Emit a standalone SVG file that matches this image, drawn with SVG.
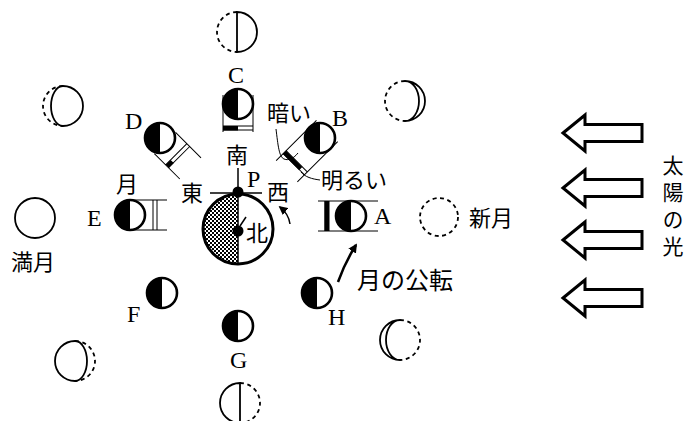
<svg xmlns="http://www.w3.org/2000/svg" width="689" height="421" viewBox="0 0 689 421">
  <style>
    .serif { font-family: "Liberation Serif", "Times New Roman", serif; font-size: 24px; fill: #000; }
    .jp { font-family: "Noto Sans CJK JP", "Noto Sans", sans-serif; font-size: 22px; fill: #000; }
    .jpv { font-family: "Noto Sans CJK JP", "Noto Sans", sans-serif; font-size: 21px; fill: #000; writing-mode: vertical-rl; letter-spacing: 6px; }
    .thin { fill: none; stroke: #000; stroke-width: 1; }
    .line { fill: none; stroke: #000; stroke-width: 1.5; }
    .dash { fill: none; stroke: #000; stroke-width: 1.8; stroke-dasharray: 4 3.5; }
    .solid { fill: none; stroke: #000; stroke-width: 1.8; }
    .sun { fill: #fff; stroke: #000; stroke-width: 3; stroke-linejoin: miter; }
    .bar { fill: #000; }
  </style>
  <defs>
    <!-- stipple for the night side of the earth -->
    <pattern id="stipple" width="4" height="4" patternUnits="userSpaceOnUse">
      <rect width="4" height="4" fill="#fff"/>
      <rect x="0" y="0" width="2" height="2" fill="#000"/>
      <rect x="2" y="2" width="2" height="2" fill="#000"/>
    </pattern>
    <!-- moon seen from the sun side: left half dark -->
    <g id="moon">
      <circle r="15" fill="#fff" stroke="#000" stroke-width="2.6"/>
      <path d="M0,-15 A15,15 0 0 0 0,15 Z" fill="#000"/>
    </g>
    <marker id="head" viewBox="0 0 10 10" refX="8" refY="5" markerWidth="9" markerHeight="9" markerUnits="userSpaceOnUse" orient="auto">
      <path d="M0,0 L10,5 L0,10 Z" fill="#000"/>
    </marker>
  </defs>

  <rect width="689" height="421" fill="#fff"/>

  <!-- sunlight arrows -->
  <g id="sunlight">
    <polygon class="sun" points="563,133 585,115 585,124.5 642,124.5 642,141.5 585,141.5 585,151"/>
    <polygon class="sun" points="563,188 585,170 585,179.5 642,179.5 642,196.5 585,196.5 585,206"/>
    <polygon class="sun" points="563,240 585,222 585,231.5 642,231.5 642,248.5 585,248.5 585,258"/>
    <polygon class="sun" points="563,298 585,280 585,289.5 642,289.5 642,306.5 585,306.5 585,316"/>
    <text class="jpv" x="673" y="155">太陽の光</text>
  </g>

  <!-- earth -->
  <g id="earth">
    <path d="M238,194 A35,35 0 0 0 238,264 Z" fill="url(#stipple)"/>
    <circle cx="238" cy="229" r="35" fill="none" stroke="#000" stroke-width="3"/>
    <line class="line" x1="238" y1="168" x2="238" y2="264"/>
    <line class="line" x1="210" y1="193" x2="262" y2="193"/>
    <circle cx="238" cy="192" r="5.5" fill="#000"/>
    <circle cx="238" cy="231" r="5.5" fill="#000"/>
    <line class="line" x1="240" y1="226" x2="246" y2="217"/>
    <text class="serif" x="247" y="187">P</text>
    <text class="jp" x="226" y="163">南</text>
    <text class="jp" x="181" y="201">東</text>
    <text class="jp" x="267" y="200">西</text>
    <text class="jp" x="246" y="241">北</text>
  </g>

  <!-- moon positions on the orbit -->
  <g id="moon-A">
    <g transform="translate(351,216) rotate(90)">
      <path class="thin" d="M-15,-27 V33 M15,-27 V33 M-15,22 H15 M-15,26 H15"/>
      <rect class="bar" x="-15" y="22" width="30" height="4.5"/>
    </g>
    <use href="#moon" x="351" y="216"/>
    <text class="serif" x="374" y="224">A</text>
  </g>
  <g id="moon-B">
    <g transform="translate(320,138) rotate(45)">
      <path class="thin" d="M-15,-10 V47 M15,-10 V47 M-15,33 H15 M-15,37 H15"/>
      <rect class="bar" x="-15" y="33" width="23" height="4.5"/>
    </g>
    <use href="#moon" x="320" y="138"/>
    <text class="serif" x="332" y="126">B</text>
  </g>
  <g id="moon-C">
    <g transform="translate(238,104)">
      <path class="thin" d="M-15,-9 V28 M15,-9 V28 M-15,22 H15 M-15,26 H15"/>
      <rect class="bar" x="-15" y="22" width="15" height="4.5"/>
    </g>
    <use href="#moon" x="238" y="104"/>
    <text class="serif" x="228" y="83">C</text>
  </g>
  <g id="moon-D">
    <g transform="translate(160,138) rotate(-45)">
      <path class="thin" d="M-15,7 V43 M15,7 V43 M-15,23 H15 M-15,27 H15"/>
      <rect class="bar" x="-15" y="23" width="7" height="4.5"/>
    </g>
    <use href="#moon" x="160" y="138"/>
    <text class="serif" x="125" y="129">D</text>
  </g>
  <g id="moon-E">
    <g transform="translate(130,215) rotate(-90)">
      <path class="thin" d="M-15,0 V37 M15,0 V37 M-15,23 H15 M-15,27 H15"/>
    </g>
    <use href="#moon" x="130" y="215"/>
    <text class="serif" x="87" y="226">E</text>
    <text class="jp" x="116" y="192">月</text>
  </g>
  <g id="moon-F">
    <use href="#moon" x="162" y="293"/>
    <text class="serif" x="127" y="322">F</text>
  </g>
  <g id="moon-G">
    <use href="#moon" x="238" y="326"/>
    <text class="serif" x="230" y="368">G</text>
  </g>
  <g id="moon-H">
    <use href="#moon" x="317" y="293"/>
    <text class="serif" x="328" y="325">H</text>
  </g>

  <!-- phases as seen from the earth -->
  <g id="new-moon">
    <circle class="dash" cx="439" cy="217" r="19"/>
    <text class="jp" x="469" y="226">新月</text>
  </g>
  <g id="crescent-waxing">
    <path class="dash" d="M405,81 A20,20 0 0 0 405,121"/>
    <path class="solid" d="M405,81 A20,20 0 0 1 405,121 A14,20 0 0 0 405,81 Z"/>
  </g>
  <g id="first-quarter">
    <path class="dash" d="M237,12 A20,20 0 0 0 237,52"/>
    <path class="solid" d="M237,12 A20,20 0 0 1 237,52 Z"/>
  </g>
  <g id="gibbous-waxing">
    <path class="dash" d="M63,86 A20,20 0 0 0 63,126"/>
    <path class="solid" d="M63,86 A20,20 0 0 1 63,126 A12,20 0 0 1 63,86 Z"/>
  </g>
  <g id="full-moon">
    <circle class="solid" cx="35" cy="218" r="20"/>
    <text class="jp" x="11" y="270">満月</text>
  </g>
  <g id="gibbous-waning">
    <path class="dash" d="M75,341 A20,20 0 0 1 75,381"/>
    <path class="solid" d="M75,341 A20,20 0 0 0 75,381 A12,20 0 0 0 75,341 Z"/>
  </g>
  <g id="last-quarter">
    <path class="dash" d="M240,383 A20,20 0 0 1 240,423"/>
    <path class="solid" d="M240,383 A20,20 0 0 0 240,423 Z"/>
  </g>
  <g id="crescent-waning">
    <path class="dash" d="M400,320 A20,20 0 0 1 400,360"/>
    <path class="solid" d="M400,320 A20,20 0 0 0 400,360 A14,20 0 0 1 400,320 Z"/>
  </g>

  <!-- labels for the frame of moon B -->
  <g id="brightness-labels">
    <text class="jp" x="267" y="121">暗い</text>
    <text class="jp" x="321" y="188">明るい</text>
  </g>
  <g id="revolution-label">
    <text class="jp" x="357" y="289" style="font-size:24px">月の公転</text>
  </g>

  <!-- connectors: leader lines and motion arrows -->
  <g id="connectors">
    <path class="thin" d="M276,129 C278,145 279,157 284,159 C289,161 294,158 298,153"/>
    <path class="thin" d="M301,172 C305,177 312,179 320,180"/>
    <path class="line" d="M290,224 C289,216 285,211 280,207" marker-end="url(#head)"/>
    <path fill="none" stroke="#000" stroke-width="2.5" d="M338,282 C343,268 349,256 356,245" marker-end="url(#head)"/>
  </g>
</svg>
